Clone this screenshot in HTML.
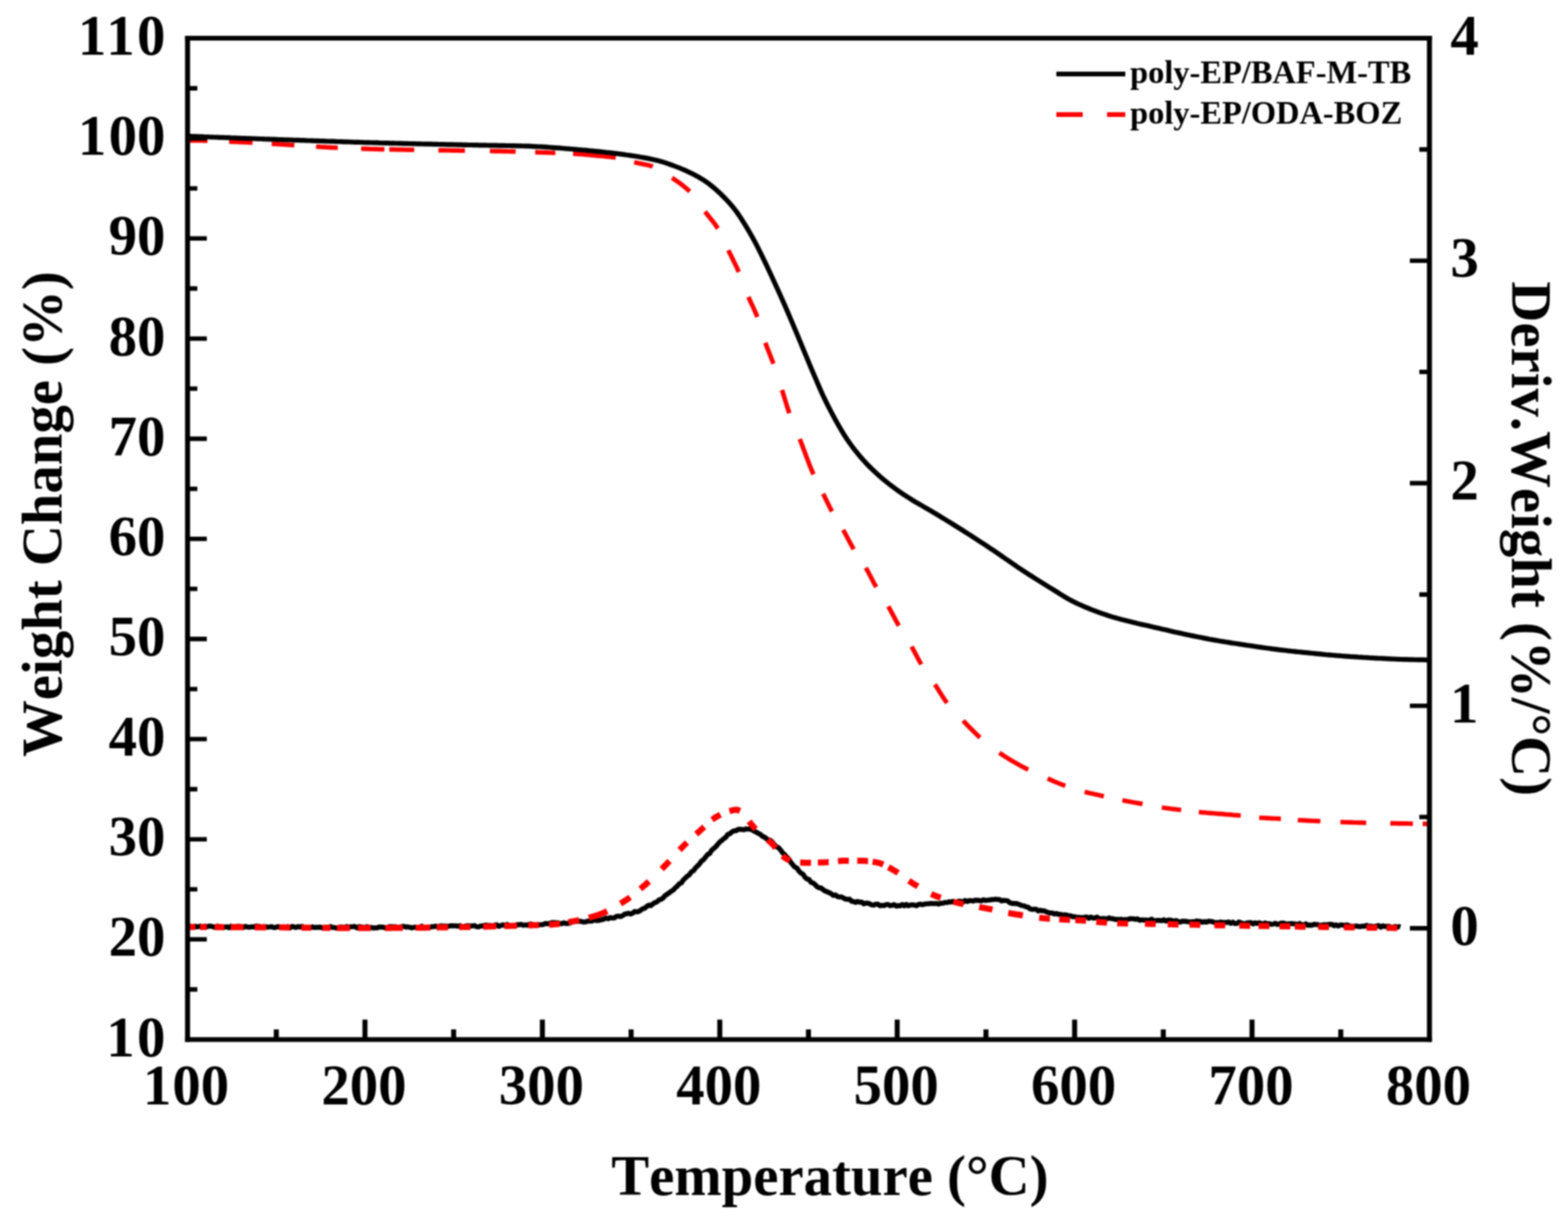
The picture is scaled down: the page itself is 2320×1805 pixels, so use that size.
<!DOCTYPE html>
<html lang="en"><head><meta charset="utf-8"><title>TGA / DTG curves</title>
<style>
html,body{margin:0;padding:0;background:#fff;}
body{width:2320px;height:1805px;overflow:hidden;}
svg{display:block;filter:blur(1.3px);}
</style></head><body>
<svg width="2320" height="1805" viewBox="0 0 2320 1805">
<rect width="2320" height="1805" fill="#fff"/>
<g id="curves" fill="none" stroke-linejoin="round">
<path d="M279.5 207.7 L282.5 207.8 L286.5 207.8 L290.5 207.9 L294.5 207.9 L298.5 208.0 L302.5 208.1 L306.5 208.2 L307.0 208.2 M339.0 209.4 L342.5 209.6 L346.5 209.8 L350.5 210.0 L354.5 210.1 L358.5 210.3 L362.5 210.5 L366.5 210.7 L370.5 210.9 L373.6 211.1 L373.6 211.1 M402.0 212.8 L405.5 213.0 L409.5 213.2 L413.5 213.5 L417.5 213.7 L421.5 214.0 L425.5 214.2 L429.5 214.5 L433.5 214.7 L435.5 214.9 M467.6 217.0 L471.5 217.2 L475.5 217.5 L479.5 217.7 L483.5 217.9 L487.5 218.1 L491.5 218.3 L495.5 218.4 L499.5 218.6 L499.8 218.6 M534.3 220.0 L537.5 220.1 L541.5 220.2 L545.5 220.3 L549.5 220.5 L553.5 220.6 L557.5 220.7 L561.5 220.8 L565.5 220.8 L568.8 220.9 L568.8 220.9 M576.0 221.1 L579.5 221.1 L583.5 221.2 L587.5 221.3 L591.5 221.4 L595.5 221.4 L599.5 221.5 L603.5 221.6 L607.5 221.6 L611.5 221.7 L612.9 221.7 M648.6 222.3 L652.5 222.4 L656.5 222.4 L660.5 222.5 L664.5 222.5 L668.5 222.6 L672.5 222.7 L676.5 222.7 L680.5 222.8 L684.5 222.8 L687.9 222.9 L687.9 222.9 M724.8 223.4 L728.5 223.5 L732.5 223.6 L736.5 223.6 L740.5 223.7 L744.5 223.8 L748.5 223.9 L752.5 224.0 L756.5 224.1 L760.5 224.2 L762.9 224.3 M791.9 225.2 L795.5 225.3 L799.5 225.5 L803.5 225.6 L807.5 225.7 L811.5 225.9 L815.5 226.0 L819.5 226.2 L821.7 226.2 M847.9 227.4 L851.5 227.6 L855.5 227.9 L859.5 228.2 L863.5 228.5 L867.5 228.9 L871.5 229.2 L875.5 229.6 L879.5 230.0 L883.5 230.3 L887.5 230.7 L891.5 231.0 L895.5 231.4 L899.5 231.8 L903.5 232.3 L907.5 232.8 L911.0 233.3 L911.0 233.3 M938.3 240.0 L941.5 240.7 L945.5 241.6 L949.5 242.4 L953.5 243.2 L957.5 244.1 L961.5 245.1 L965.5 246.3 L965.7 246.4 M994.3 263.1 L997.5 265.2 L1001.5 268.0 L1005.5 270.8 L1009.5 273.8 L1013.5 277.0 L1017.5 280.5 L1020.5 283.3 L1020.5 283.3 M1043.1 313.1 L1046.5 317.4 L1050.5 322.3 L1054.5 327.3 L1058.5 332.6 L1062.1 338.1 L1062.1 338.1 M1077.6 370.2 L1081.5 378.1 L1085.5 386.2 L1089.5 394.4 L1093.1 402.4 L1093.1 402.4 M1107.4 439.3 L1110.5 446.4 L1114.5 454.9 L1118.5 463.9 L1120.5 469.0 M1132.4 507.1 L1135.5 515.5 L1139.5 525.6 L1143.5 535.9 L1144.3 538.1 M1157.1 576.9 L1160.5 587.9 L1164.5 601.1 L1167.9 611.4 L1167.9 611.4 M1183.3 649.5 L1186.5 657.8 L1190.5 668.5 L1194.5 679.2 L1198.5 689.7 L1202.5 699.4 L1203.6 701.9 M1217.9 730.5 L1221.5 737.8 L1225.5 746.0 L1229.5 753.9 L1231.0 756.7 M1247.6 784.0 L1251.5 791.1 L1255.5 798.7 L1259.5 806.2 L1263.1 812.6 L1263.1 812.6 M1281.0 840.0 L1284.5 846.2 L1288.5 853.8 L1292.5 861.5 L1296.4 868.6 L1296.4 868.6 M1314.3 897.1 L1317.5 902.8 L1321.5 910.3 L1325.5 917.9 L1329.5 925.2 L1329.8 925.7 M1348.8 956.7 L1352.5 963.4 L1356.5 971.0 L1360.5 978.4 L1363.1 982.9 M1383.3 1012.6 L1386.5 1017.5 L1390.5 1024.0 L1394.5 1030.3 L1398.5 1036.3 L1401.2 1040.0 M1425.0 1066.2 L1428.5 1069.9 L1432.5 1074.1 L1436.5 1078.2 L1440.5 1082.2 L1444.5 1086.1 L1448.5 1089.9 L1450.0 1091.2 M1478.6 1113.8 L1482.5 1116.4 L1486.5 1119.0 L1490.5 1121.5 L1494.5 1124.0 L1498.5 1126.3 L1502.5 1128.6 L1506.5 1130.9 L1510.5 1133.1 L1514.5 1135.2 L1518.5 1137.3 L1521.4 1138.8 M1550.0 1151.9 L1553.5 1153.4 L1557.5 1155.1 L1561.5 1156.8 L1565.5 1158.5 L1569.5 1160.1 L1573.5 1161.6 L1576.2 1162.6 M1604.8 1171.4 L1608.5 1172.4 L1612.5 1173.4 L1616.5 1174.3 L1620.5 1175.2 L1624.5 1176.1 L1628.5 1177.0 L1632.5 1177.9 L1633.3 1178.1 M1660.7 1184.0 L1664.5 1184.7 L1668.5 1185.5 L1672.5 1186.2 L1676.5 1187.0 L1680.5 1187.7 L1684.5 1188.4 L1688.5 1189.1 L1690.5 1189.5 M1719.0 1194.8 L1722.5 1195.3 L1726.5 1195.8 L1730.5 1196.3 L1734.5 1196.8 L1738.5 1197.2 L1742.5 1197.7 L1746.5 1198.2 L1747.6 1198.3 M1773.8 1201.4 L1777.5 1201.8 L1781.5 1202.1 L1785.5 1202.5 L1789.5 1202.8 L1793.5 1203.2 L1797.5 1203.5 L1801.5 1203.8 L1805.5 1204.1 L1809.5 1204.4 L1813.5 1204.8 L1817.5 1205.1 L1821.5 1205.4 L1825.5 1205.8 L1829.5 1206.1 L1833.5 1206.5 L1835.7 1206.7 M1863.1 1209.8 L1866.5 1210.0 L1870.5 1210.2 L1874.5 1210.4 L1878.5 1210.6 L1882.5 1210.8 L1886.5 1211.0 L1890.5 1211.1 L1894.5 1211.4 L1895.2 1211.4 M1920.2 1213.3 L1923.5 1213.5 L1927.5 1213.7 L1931.5 1213.9 L1935.5 1214.1 L1939.5 1214.3 L1943.5 1214.5 L1947.5 1214.7 L1951.5 1214.9 L1953.6 1215.0 M1983.3 1216.2 L1986.5 1216.3 L1990.5 1216.5 L1994.5 1216.6 L1998.5 1216.7 L2002.5 1216.9 L2006.5 1217.0 L2010.5 1217.1 L2014.5 1217.2 L2018.5 1217.3 L2021.4 1217.4 M2057.1 1218.1 L2060.5 1218.2 L2064.5 1218.2 L2068.5 1218.3 L2072.5 1218.3 L2076.5 1218.4 L2080.5 1218.4 L2084.5 1218.5 L2088.5 1218.6 L2090.5 1218.6 M2105.0 1218.9 L2108.5 1218.9 L2112.5 1219.0 L2113.0 1219.0" stroke="#f00" stroke-width="6.7"/>
<path d="M277.5 201.5 L281.5 201.6 L285.5 201.8 L289.5 201.9 L293.5 202.1 L297.5 202.2 L301.5 202.4 L305.5 202.5 L309.5 202.7 L313.5 202.8 L317.5 203.0 L321.5 203.1 L325.5 203.3 L329.5 203.4 L333.5 203.6 L337.5 203.7 L341.5 203.9 L345.5 204.0 L349.5 204.2 L353.5 204.3 L357.5 204.5 L361.5 204.6 L365.5 204.8 L369.5 204.9 L373.5 205.0 L377.5 205.2 L381.5 205.3 L385.5 205.5 L389.5 205.6 L393.5 205.8 L397.5 205.9 L401.5 206.1 L405.5 206.2 L409.5 206.3 L413.5 206.5 L417.5 206.6 L421.5 206.8 L425.5 206.9 L429.5 207.0 L433.5 207.2 L437.5 207.3 L441.5 207.4 L445.5 207.6 L449.5 207.7 L453.5 207.9 L457.5 208.0 L461.5 208.1 L465.5 208.3 L469.5 208.4 L473.5 208.6 L477.5 208.7 L481.5 208.8 L485.5 209.0 L489.5 209.1 L493.5 209.2 L497.5 209.4 L501.5 209.5 L505.5 209.6 L509.5 209.8 L513.5 209.9 L517.5 210.0 L521.5 210.2 L525.5 210.3 L529.5 210.4 L533.5 210.5 L537.5 210.7 L541.5 210.8 L545.5 210.9 L549.5 211.0 L553.5 211.1 L557.5 211.2 L561.5 211.4 L565.5 211.5 L569.5 211.6 L573.5 211.7 L577.5 211.8 L581.5 211.9 L585.5 212.0 L589.5 212.1 L593.5 212.2 L597.5 212.3 L601.5 212.4 L605.5 212.5 L609.5 212.6 L613.5 212.7 L617.5 212.8 L621.5 212.9 L625.5 213.0 L629.5 213.1 L633.5 213.1 L637.5 213.2 L641.5 213.3 L645.5 213.4 L649.5 213.5 L653.5 213.6 L657.5 213.7 L661.5 213.8 L665.5 213.9 L669.5 213.9 L673.5 214.0 L677.5 214.1 L681.5 214.2 L685.5 214.3 L689.5 214.4 L693.5 214.5 L697.5 214.5 L701.5 214.6 L705.5 214.7 L709.5 214.8 L713.5 214.9 L717.5 214.9 L721.5 215.0 L725.5 215.1 L729.5 215.1 L733.5 215.2 L737.5 215.3 L741.5 215.3 L745.5 215.4 L749.5 215.5 L753.5 215.5 L757.5 215.6 L761.5 215.7 L765.5 215.8 L769.5 215.9 L773.5 216.0 L777.5 216.1 L781.5 216.2 L785.5 216.4 L789.5 216.6 L793.5 216.8 L797.5 217.0 L801.5 217.2 L805.5 217.4 L809.5 217.7 L813.5 218.0 L817.5 218.3 L821.5 218.6 L825.5 218.9 L829.5 219.2 L833.5 219.5 L837.5 219.9 L841.5 220.2 L845.5 220.5 L849.5 220.8 L853.5 221.2 L857.5 221.5 L861.5 221.9 L865.5 222.2 L869.5 222.6 L873.5 223.0 L877.5 223.4 L881.5 223.8 L885.5 224.2 L889.5 224.6 L893.5 225.0 L897.5 225.5 L901.5 225.9 L905.5 226.4 L909.5 226.9 L913.5 227.4 L917.5 227.9 L921.5 228.4 L925.5 229.0 L929.5 229.5 L933.5 230.1 L937.5 230.7 L941.5 231.3 L945.5 232.0 L949.5 232.7 L953.5 233.4 L957.5 234.1 L961.5 234.9 L965.5 235.8 L969.5 236.7 L973.5 237.6 L977.5 238.7 L981.5 239.9 L985.5 241.2 L989.5 242.6 L993.5 244.0 L997.5 245.5 L1001.5 247.0 L1005.5 248.5 L1009.5 250.2 L1013.5 251.9 L1017.5 253.7 L1021.5 255.7 L1025.5 257.6 L1029.5 259.7 L1033.5 261.9 L1037.5 264.3 L1041.5 266.7 L1045.5 269.4 L1049.5 272.4 L1053.5 275.6 L1057.5 278.9 L1061.5 282.5 L1065.5 286.2 L1069.5 290.1 L1073.5 294.1 L1077.5 298.4 L1081.5 302.9 L1085.5 307.7 L1089.5 312.9 L1093.5 318.6 L1097.5 324.7 L1101.5 331.1 L1105.5 337.7 L1109.5 344.5 L1113.5 351.5 L1117.5 358.9 L1121.5 366.6 L1125.5 374.6 L1129.5 382.8 L1133.5 391.1 L1137.5 399.7 L1141.5 408.3 L1145.5 417.1 L1149.5 425.8 L1153.5 434.6 L1157.5 443.4 L1161.5 452.5 L1165.5 461.7 L1169.5 471.1 L1173.5 480.6 L1177.5 490.1 L1181.5 499.7 L1185.5 509.4 L1189.5 519.1 L1193.5 528.7 L1197.5 538.3 L1201.5 547.9 L1205.5 557.2 L1209.5 566.5 L1213.5 575.7 L1217.5 584.7 L1221.5 593.1 L1225.5 601.2 L1229.5 608.9 L1233.5 616.4 L1237.5 623.7 L1241.5 630.8 L1245.5 637.6 L1249.5 644.1 L1253.5 650.3 L1257.5 656.0 L1261.5 661.5 L1265.5 666.6 L1269.5 671.6 L1273.5 676.3 L1277.5 680.9 L1281.5 685.2 L1285.5 689.4 L1289.5 693.4 L1293.5 697.2 L1297.5 700.9 L1301.5 704.5 L1305.5 707.9 L1309.5 711.3 L1313.5 714.5 L1317.5 717.7 L1321.5 720.7 L1325.5 723.6 L1329.5 726.5 L1333.5 729.2 L1337.5 731.9 L1341.5 734.5 L1345.5 737.1 L1349.5 739.6 L1353.5 742.1 L1357.5 744.4 L1361.5 746.7 L1365.5 749.0 L1369.5 751.3 L1373.5 753.6 L1377.5 755.9 L1381.5 758.3 L1385.5 760.7 L1389.5 763.1 L1393.5 765.6 L1397.5 768.0 L1401.5 770.5 L1405.5 772.9 L1409.5 775.4 L1413.5 777.9 L1417.5 780.4 L1421.5 782.9 L1425.5 785.4 L1429.5 788.0 L1433.5 790.5 L1437.5 793.1 L1441.5 795.7 L1445.5 798.3 L1449.5 800.9 L1453.5 803.5 L1457.5 806.1 L1461.5 808.8 L1465.5 811.4 L1469.5 814.1 L1473.5 816.8 L1477.5 819.5 L1481.5 822.3 L1485.5 825.1 L1489.5 827.9 L1493.5 830.6 L1497.5 833.4 L1501.5 836.1 L1505.5 838.9 L1509.5 841.5 L1513.5 844.2 L1517.5 846.8 L1521.5 849.4 L1525.5 851.9 L1529.5 854.5 L1533.5 857.0 L1537.5 859.5 L1541.5 862.0 L1545.5 864.5 L1549.5 867.0 L1553.5 869.5 L1557.5 871.9 L1561.5 874.4 L1565.5 876.9 L1569.5 879.5 L1573.5 881.9 L1577.5 884.3 L1581.5 886.6 L1585.5 888.7 L1589.5 890.7 L1593.5 892.7 L1597.5 894.5 L1601.5 896.3 L1605.5 898.1 L1609.5 899.7 L1613.5 901.4 L1617.5 902.9 L1621.5 904.4 L1625.5 905.9 L1629.5 907.3 L1633.5 908.7 L1637.5 910.0 L1641.5 911.3 L1645.5 912.6 L1649.5 913.7 L1653.5 914.9 L1657.5 916.0 L1661.5 917.1 L1665.5 918.1 L1669.5 919.1 L1673.5 920.1 L1677.5 921.1 L1681.5 922.1 L1685.5 923.0 L1689.5 923.9 L1693.5 924.7 L1697.5 925.6 L1701.5 926.5 L1705.5 927.5 L1709.5 928.4 L1713.5 929.3 L1717.5 930.3 L1721.5 931.2 L1725.5 932.1 L1729.5 933.1 L1733.5 934.0 L1737.5 934.9 L1741.5 935.8 L1745.5 936.6 L1749.5 937.5 L1753.5 938.4 L1757.5 939.2 L1761.5 940.1 L1765.5 940.9 L1769.5 941.7 L1773.5 942.5 L1777.5 943.3 L1781.5 944.1 L1785.5 944.9 L1789.5 945.7 L1793.5 946.4 L1797.5 947.1 L1801.5 947.8 L1805.5 948.5 L1809.5 949.1 L1813.5 949.8 L1817.5 950.4 L1821.5 951.1 L1825.5 951.7 L1829.5 952.3 L1833.5 952.9 L1837.5 953.5 L1841.5 954.1 L1845.5 954.7 L1849.5 955.3 L1853.5 955.9 L1857.5 956.5 L1861.5 957.1 L1865.5 957.6 L1869.5 958.2 L1873.5 958.8 L1877.5 959.3 L1881.5 959.9 L1885.5 960.4 L1889.5 960.9 L1893.5 961.4 L1897.5 961.8 L1901.5 962.3 L1905.5 962.8 L1909.5 963.2 L1913.5 963.7 L1917.5 964.1 L1921.5 964.5 L1925.5 964.9 L1929.5 965.3 L1933.5 965.7 L1937.5 966.1 L1941.5 966.5 L1945.5 966.9 L1949.5 967.3 L1953.5 967.7 L1957.5 968.1 L1961.5 968.5 L1965.5 968.8 L1969.5 969.2 L1973.5 969.5 L1977.5 969.9 L1981.5 970.2 L1985.5 970.5 L1989.5 970.8 L1993.5 971.1 L1997.5 971.4 L2001.5 971.6 L2005.5 971.9 L2009.5 972.2 L2013.5 972.4 L2017.5 972.7 L2021.5 972.9 L2025.5 973.2 L2029.5 973.4 L2033.5 973.6 L2037.5 973.8 L2041.5 974.0 L2045.5 974.2 L2049.5 974.4 L2053.5 974.6 L2057.5 974.8 L2061.5 975.0 L2065.5 975.2 L2069.5 975.3 L2073.5 975.5 L2077.5 975.6 L2081.5 975.7 L2085.5 975.8 L2089.5 975.9 L2093.5 976.0 L2097.5 976.1 L2101.5 976.2 L2105.5 976.2 L2109.5 976.3 L2113.0 976.4" stroke="#000" stroke-width="7.2"/>
<path d="M279.0 1370.7 L282.0 1370.3 L285.0 1371.6 L288.0 1370.1 L291.0 1371.3 L294.0 1370.9 L297.0 1370.1 L300.0 1371.3 L303.0 1370.1 L306.0 1371.1 L309.0 1370.2 L312.0 1370.2 L315.0 1371.1 L318.0 1372.1 L321.0 1370.3 L324.0 1370.6 L327.0 1371.6 L330.0 1372.5 L333.0 1371.5 L336.0 1371.1 L339.0 1372.6 L342.0 1370.2 L345.0 1372.3 L348.0 1370.8 L351.0 1370.4 L354.0 1370.4 L357.0 1370.9 L360.0 1372.2 L363.0 1370.6 L366.0 1371.6 L369.0 1371.8 L372.0 1371.1 L375.0 1371.6 L378.0 1370.3 L381.0 1370.3 L384.0 1370.7 L387.0 1371.9 L390.0 1371.3 L393.0 1371.0 L396.0 1371.7 L399.0 1371.4 L402.0 1371.0 L405.0 1372.3 L408.0 1372.0 L411.0 1370.9 L414.0 1371.7 L417.0 1371.6 L420.0 1372.5 L423.0 1372.2 L426.0 1371.0 L429.0 1372.9 L432.0 1370.6 L435.0 1371.4 L438.0 1372.3 L441.0 1370.8 L444.0 1371.6 L447.0 1370.5 L450.0 1372.1 L453.0 1372.4 L456.0 1371.9 L459.0 1372.7 L462.0 1371.3 L465.0 1372.3 L468.0 1372.0 L471.0 1372.0 L474.0 1371.7 L477.0 1372.7 L480.0 1373.0 L483.0 1371.8 L486.0 1372.3 L489.0 1370.7 L492.0 1372.4 L495.0 1372.3 L498.0 1373.2 L501.0 1372.8 L504.0 1371.4 L507.0 1371.7 L510.0 1372.4 L513.0 1370.7 L516.0 1371.9 L519.0 1371.1 L522.0 1371.0 L525.0 1370.8 L528.0 1372.7 L531.0 1371.0 L534.0 1371.3 L537.0 1371.7 L540.0 1373.0 L543.0 1370.9 L546.0 1371.9 L549.0 1372.1 L552.0 1373.0 L555.0 1372.8 L558.0 1372.9 L561.0 1371.4 L564.0 1371.7 L567.0 1371.6 L570.0 1372.9 L573.0 1373.1 L576.0 1371.0 L579.0 1371.0 L582.0 1371.1 L585.0 1371.1 L588.0 1371.8 L591.0 1372.0 L594.0 1371.1 L597.0 1370.4 L600.0 1371.5 L603.0 1371.3 L606.0 1371.8 L609.0 1372.8 L612.0 1372.1 L615.0 1371.6 L618.0 1371.8 L621.0 1371.9 L624.0 1370.3 L627.0 1372.4 L630.0 1372.1 L633.0 1372.3 L636.0 1372.1 L639.0 1371.0 L642.0 1371.0 L645.0 1370.2 L648.0 1371.5 L651.0 1370.0 L654.0 1369.9 L657.0 1370.3 L660.0 1370.1 L663.0 1370.5 L666.0 1369.8 L669.0 1369.6 L672.0 1369.9 L675.0 1369.8 L678.0 1370.4 L681.0 1369.5 L684.0 1371.6 L687.0 1370.9 L690.0 1369.6 L693.0 1369.8 L696.0 1370.0 L699.0 1370.0 L702.0 1369.3 L705.0 1371.1 L708.0 1371.4 L711.0 1370.0 L714.0 1370.0 L717.0 1368.9 L720.0 1368.8 L723.0 1369.4 L726.0 1369.1 L729.0 1370.5 L732.0 1368.7 L735.0 1368.3 L738.0 1370.6 L741.0 1369.4 L744.0 1368.3 L747.0 1369.3 L750.0 1367.8 L753.0 1369.0 L756.0 1370.1 L759.0 1369.7 L762.0 1369.2 L765.0 1368.0 L768.0 1368.2 L771.0 1367.5 L774.0 1369.0 L777.0 1368.3 L780.0 1368.8 L783.0 1367.5 L786.0 1367.2 L789.0 1368.6 L792.0 1368.9 L795.0 1368.4 L798.0 1368.1 L801.0 1368.0 L804.0 1367.7 L807.0 1366.2 L810.0 1366.8 L813.0 1366.2 L816.0 1365.2 L819.0 1365.0 L822.0 1365.5 L825.0 1365.2 L828.0 1366.2 L831.0 1366.7 L834.0 1365.2 L837.0 1366.3 L840.0 1366.2 L843.0 1365.9 L846.0 1364.2 L849.0 1363.6 L852.0 1363.4 L855.0 1363.1 L858.0 1362.9 L861.0 1363.7 L864.0 1364.2 L867.0 1363.8 L870.0 1362.6 L873.0 1362.7 L876.0 1362.8 L879.0 1360.6 L882.0 1361.7 L885.0 1362.0 L888.0 1361.2 L891.0 1360.7 L894.0 1359.5 L897.0 1358.2 L900.0 1359.3 L903.0 1357.5 L906.0 1358.2 L909.0 1358.0 L912.0 1355.9 L915.0 1355.3 L918.0 1356.1 L921.0 1354.8 L924.0 1352.7 L927.0 1351.9 L930.0 1351.1 L933.0 1352.3 L936.0 1351.1 L939.0 1348.5 L942.0 1349.2 L945.0 1348.6 L948.0 1346.6 L951.0 1344.5 L954.0 1343.6 L957.0 1341.0 L960.0 1339.1 L963.0 1339.9 L966.0 1337.3 L969.0 1335.3 L972.0 1334.5 L975.0 1331.4 L978.0 1330.7 L981.0 1328.7 L984.0 1325.1 L987.0 1323.1 L990.0 1321.1 L993.0 1318.7 L996.0 1317.1 L999.0 1313.6 L1002.0 1311.2 L1005.0 1307.5 L1008.0 1306.5 L1011.0 1301.9 L1014.0 1299.1 L1017.0 1296.3 L1020.0 1294.2 L1023.0 1289.9 L1026.0 1288.2 L1029.0 1284.1 L1032.0 1281.2 L1035.0 1278.1 L1038.0 1273.8 L1041.0 1271.8 L1044.0 1268.0 L1047.0 1264.2 L1050.0 1262.9 L1053.0 1257.9 L1056.0 1255.4 L1059.0 1252.8 L1062.0 1249.2 L1065.0 1245.7 L1068.0 1243.4 L1071.0 1240.7 L1074.0 1238.6 L1077.0 1234.4 L1080.0 1233.4 L1083.0 1230.8 L1086.0 1229.2 L1089.0 1229.0 L1092.0 1227.1 L1095.0 1226.8 L1098.0 1227.2 L1101.0 1227.5 L1104.0 1226.3 L1107.0 1226.7 L1110.0 1226.7 L1113.0 1227.8 L1116.0 1229.9 L1119.0 1231.1 L1122.0 1233.0 L1125.0 1234.4 L1128.0 1237.3 L1131.0 1238.5 L1134.0 1240.8 L1137.0 1243.0 L1140.0 1243.3 L1143.0 1246.4 L1146.0 1250.0 L1149.0 1252.8 L1152.0 1254.2 L1155.0 1257.6 L1158.0 1261.9 L1161.0 1264.3 L1164.0 1268.0 L1167.0 1270.9 L1170.0 1275.8 L1173.0 1279.4 L1176.0 1282.9 L1179.0 1284.1 L1182.0 1288.7 L1185.0 1291.7 L1188.0 1293.2 L1191.0 1297.8 L1194.0 1300.6 L1197.0 1301.2 L1200.0 1305.5 L1203.0 1306.3 L1206.0 1308.7 L1209.0 1312.0 L1212.0 1313.6 L1215.0 1313.8 L1218.0 1316.3 L1221.0 1318.3 L1224.0 1319.5 L1227.0 1320.7 L1230.0 1322.4 L1233.0 1324.7 L1236.0 1324.0 L1239.0 1326.4 L1242.0 1327.1 L1245.0 1326.9 L1248.0 1328.6 L1251.0 1330.1 L1254.0 1330.7 L1257.0 1330.3 L1260.0 1333.5 L1263.0 1333.8 L1266.0 1335.1 L1269.0 1333.6 L1272.0 1334.7 L1275.0 1334.7 L1278.0 1337.2 L1281.0 1336.2 L1284.0 1336.2 L1287.0 1337.3 L1290.0 1338.9 L1293.0 1339.0 L1296.0 1337.8 L1299.0 1337.8 L1302.0 1340.1 L1305.0 1339.4 L1308.0 1339.8 L1311.0 1338.4 L1314.0 1338.3 L1317.0 1340.0 L1320.0 1339.3 L1323.0 1338.4 L1326.0 1340.6 L1329.0 1339.8 L1332.0 1340.2 L1335.0 1338.2 L1338.0 1340.2 L1341.0 1338.1 L1344.0 1340.1 L1347.0 1339.0 L1350.0 1338.6 L1353.0 1339.1 L1356.0 1340.0 L1359.0 1338.2 L1362.0 1337.7 L1365.0 1338.6 L1368.0 1337.6 L1371.0 1337.1 L1374.0 1337.1 L1377.0 1336.6 L1380.0 1336.8 L1383.0 1336.9 L1386.0 1336.7 L1389.0 1337.6 L1392.0 1336.2 L1395.0 1336.4 L1398.0 1335.3 L1401.0 1335.4 L1404.0 1334.3 L1407.0 1334.5 L1410.0 1333.6 L1413.0 1335.1 L1416.0 1334.4 L1419.0 1333.1 L1422.0 1333.6 L1425.0 1334.6 L1428.0 1332.2 L1431.0 1333.8 L1434.0 1332.5 L1437.0 1332.5 L1440.0 1333.2 L1443.0 1331.8 L1446.0 1332.0 L1449.0 1332.3 L1452.0 1332.9 L1455.0 1331.1 L1458.0 1332.2 L1461.0 1331.8 L1464.0 1331.6 L1467.0 1331.0 L1470.0 1330.9 L1473.0 1330.3 L1476.0 1330.8 L1479.0 1330.9 L1482.0 1333.0 L1485.0 1332.1 L1488.0 1332.4 L1491.0 1332.9 L1494.0 1335.6 L1497.0 1336.5 L1500.0 1336.8 L1503.0 1336.6 L1506.0 1337.4 L1509.0 1338.5 L1512.0 1339.9 L1515.0 1340.1 L1518.0 1341.7 L1521.0 1342.1 L1524.0 1344.7 L1527.0 1345.5 L1530.0 1345.1 L1533.0 1345.1 L1536.0 1347.7 L1539.0 1346.7 L1542.0 1347.6 L1545.0 1347.4 L1548.0 1349.1 L1551.0 1350.1 L1554.0 1350.9 L1557.0 1350.8 L1560.0 1352.3 L1563.0 1351.5 L1566.0 1352.7 L1569.0 1352.7 L1572.0 1354.0 L1575.0 1353.5 L1578.0 1353.8 L1581.0 1354.9 L1584.0 1355.0 L1587.0 1356.2 L1590.0 1356.3 L1593.0 1357.1 L1596.0 1357.1 L1599.0 1357.4 L1602.0 1358.0 L1605.0 1356.9 L1608.0 1356.8 L1611.0 1358.7 L1614.0 1356.7 L1617.0 1358.3 L1620.0 1358.2 L1623.0 1356.8 L1626.0 1359.0 L1629.0 1359.3 L1632.0 1358.8 L1635.0 1359.2 L1638.0 1359.6 L1641.0 1358.0 L1644.0 1359.1 L1647.0 1359.2 L1650.0 1360.2 L1653.0 1360.3 L1656.0 1360.4 L1659.0 1359.9 L1662.0 1360.9 L1665.0 1360.4 L1668.0 1360.6 L1671.0 1359.5 L1674.0 1359.1 L1677.0 1359.4 L1680.0 1360.1 L1683.0 1359.5 L1686.0 1361.5 L1689.0 1360.9 L1692.0 1361.2 L1695.0 1361.3 L1698.0 1361.5 L1701.0 1361.1 L1704.0 1359.9 L1707.0 1362.1 L1710.0 1362.1 L1713.0 1361.6 L1716.0 1361.8 L1719.0 1362.2 L1722.0 1360.8 L1725.0 1362.7 L1728.0 1361.5 L1731.0 1361.2 L1734.0 1361.8 L1737.0 1363.2 L1740.0 1361.9 L1743.0 1363.4 L1746.0 1364.2 L1749.0 1363.0 L1752.0 1362.9 L1755.0 1363.2 L1758.0 1363.8 L1761.0 1364.1 L1764.0 1363.8 L1767.0 1364.0 L1770.0 1362.6 L1773.0 1362.9 L1776.0 1363.2 L1779.0 1364.6 L1782.0 1363.5 L1785.0 1364.3 L1788.0 1362.9 L1791.0 1363.1 L1794.0 1363.7 L1797.0 1364.9 L1800.0 1365.0 L1803.0 1365.0 L1806.0 1364.1 L1809.0 1364.8 L1812.0 1364.7 L1815.0 1364.8 L1818.0 1364.0 L1821.0 1366.1 L1824.0 1364.3 L1827.0 1366.4 L1830.0 1366.4 L1833.0 1364.1 L1836.0 1365.3 L1839.0 1366.3 L1842.0 1366.8 L1845.0 1365.5 L1848.0 1365.1 L1851.0 1365.0 L1854.0 1367.0 L1857.0 1365.2 L1860.0 1366.2 L1863.0 1365.2 L1866.0 1366.2 L1869.0 1367.4 L1872.0 1365.4 L1875.0 1367.2 L1878.0 1366.5 L1881.0 1367.5 L1884.0 1367.1 L1887.0 1366.0 L1890.0 1367.8 L1893.0 1366.8 L1896.0 1365.7 L1899.0 1365.7 L1902.0 1367.0 L1905.0 1367.0 L1908.0 1366.7 L1911.0 1366.3 L1914.0 1366.9 L1917.0 1366.9 L1920.0 1368.4 L1923.0 1366.3 L1926.0 1368.3 L1929.0 1368.6 L1932.0 1366.8 L1935.0 1369.0 L1938.0 1368.5 L1941.0 1369.1 L1944.0 1367.5 L1947.0 1367.8 L1950.0 1368.0 L1953.0 1369.6 L1956.0 1368.6 L1959.0 1368.1 L1962.0 1368.3 L1965.0 1368.0 L1968.0 1367.5 L1971.0 1367.7 L1974.0 1369.7 L1977.0 1368.3 L1980.0 1370.1 L1983.0 1368.4 L1986.0 1368.5 L1989.0 1369.2 L1992.0 1368.5 L1995.0 1369.0 L1998.0 1370.6 L2001.0 1370.5 L2004.0 1370.4 L2007.0 1370.0 L2010.0 1370.8 L2013.0 1371.0 L2016.0 1370.1 L2019.0 1370.6 L2022.0 1368.9 L2025.0 1370.8 L2028.0 1370.1 L2031.0 1371.0 L2034.0 1370.8 L2037.0 1370.0 L2040.0 1369.4 L2043.0 1371.8 L2046.0 1369.8 L2049.0 1370.8 L2052.0 1370.5 L2055.0 1370.5 L2058.0 1371.7 L2061.0 1372.4 L2064.0 1370.7 L2067.0 1371.8 L2070.0 1370.9 L2072.0 1371.6" stroke="#000" stroke-width="7.4"/>
<path d="M279.5 1371.5 L283.0 1371.5 L287.0 1371.5 L289.0 1371.5 M296.0 1371.6 L299.0 1371.6 L303.0 1371.6 L306.0 1371.6 L306.0 1371.6 M317.6 1371.7 L321.0 1371.7 L325.0 1371.7 L329.0 1371.7 L332.0 1371.7 L332.0 1371.7 M341.4 1371.7 L345.0 1371.8 L349.0 1371.8 L353.0 1371.8 L357.0 1371.8 L360.5 1371.8 L360.5 1371.8 M377.0 1371.9 L380.0 1371.9 L384.0 1371.9 L388.0 1371.9 L392.0 1372.0 L394.0 1372.0 M413.0 1372.1 L416.0 1372.1 L420.0 1372.1 L424.0 1372.2 L428.0 1372.2 L429.5 1372.2 M446.0 1372.4 L449.0 1372.4 L453.0 1372.4 L457.0 1372.5 L460.5 1372.5 L460.5 1372.5 M477.0 1372.7 L480.0 1372.7 L484.0 1372.7 L488.0 1372.8 L489.0 1372.8 M498.6 1372.8 L502.0 1372.9 L506.0 1372.9 L510.0 1372.9 L514.0 1372.9 L517.6 1372.9 L517.6 1372.9 M529.5 1373.0 L533.0 1373.0 L537.0 1373.0 L541.0 1373.0 L545.0 1373.0 L548.6 1373.0 L548.6 1373.0 M570.0 1372.9 L573.0 1372.9 L577.0 1372.9 L581.0 1372.8 L585.0 1372.8 L589.0 1372.8 L593.0 1372.7 L596.0 1372.7 L596.0 1372.7 M615.0 1372.5 L618.0 1372.5 L622.0 1372.5 L626.0 1372.4 L630.0 1372.4 L634.0 1372.3 L636.7 1372.3 M646.0 1372.2 L649.0 1372.1 L653.0 1372.1 L657.0 1372.0 L661.0 1372.0 L663.0 1372.0 M679.5 1371.7 L683.0 1371.6 L687.0 1371.6 L691.0 1371.5 L695.0 1371.4 L696.0 1371.4 M715.0 1371.0 L718.0 1370.9 L722.0 1370.8 L726.0 1370.7 L730.0 1370.6 L734.0 1370.5 L734.3 1370.5 M746.0 1370.1 L749.0 1370.0 L753.0 1369.9 L757.0 1369.8 L761.0 1369.7 L765.0 1369.6 L765.0 1369.6 M781.5 1369.1 L785.0 1368.9 L789.0 1368.8 L793.0 1368.7 L797.0 1368.6 L797.5 1368.6 M812.5 1368.0 L816.0 1367.9 L820.0 1367.6 L824.0 1367.3 L828.0 1366.8 L828.5 1366.8 M841.1 1364.5 L845.0 1363.7 L849.0 1362.9 L853.0 1362.1 L856.9 1361.3 L856.9 1361.3 M871.2 1357.9 L875.0 1356.8 L879.0 1355.7 L883.0 1354.4 L887.0 1353.0 L891.0 1351.4 L895.0 1349.7 L898.4 1348.1 L898.4 1348.1 M918.1 1336.9 L922.0 1334.4 L926.0 1331.9 L930.0 1329.2 L932.3 1327.5 M947.5 1315.2 L951.0 1312.2 L955.0 1308.8 L959.0 1305.2 L960.1 1304.2 M979.0 1285.8 L983.0 1281.8 L987.0 1277.7 L990.6 1273.9 L990.6 1273.9 M1005.5 1257.5 L1009.0 1253.9 L1013.0 1249.9 L1016.5 1246.6 L1016.5 1246.6 M1030.1 1234.0 L1034.0 1230.6 L1038.0 1227.0 L1041.9 1223.4 L1041.9 1223.4 M1053.7 1212.8 L1057.0 1210.4 L1061.0 1207.9 L1065.0 1205.8 L1065.9 1205.3 M1079.3 1200.1 L1083.0 1199.1 L1087.0 1198.2 L1091.0 1198.1 L1094.9 1199.9 L1094.9 1199.9 M1108.5 1215.2 L1112.0 1220.1 L1116.0 1224.6 L1118.1 1226.7 M1136.0 1242.4 L1140.0 1246.1 L1144.0 1250.1 L1147.8 1254.5 L1147.8 1254.5 M1157.8 1266.2 L1161.0 1269.0 L1165.0 1271.4 L1168.8 1273.3 L1168.8 1273.3 M1183.9 1276.3 L1187.0 1276.3 L1191.0 1276.4 L1195.0 1276.4 L1199.0 1276.4 L1199.9 1276.4 M1210.1 1276.2 L1214.0 1276.1 L1218.0 1276.0 L1222.0 1275.8 L1226.0 1275.5 L1226.1 1275.5 M1239.9 1274.0 L1243.0 1273.8 L1247.0 1273.6 L1251.0 1273.6 L1255.0 1273.6 L1255.9 1273.6 M1268.4 1273.6 L1272.0 1273.6 L1276.0 1273.6 L1280.0 1273.7 L1284.0 1274.0 L1284.4 1274.0 M1291.1 1275.0 L1295.0 1275.6 L1299.0 1276.4 L1303.0 1277.5 L1306.9 1279.1 L1306.9 1279.1 M1314.5 1283.0 L1318.0 1285.0 L1322.0 1287.3 L1326.0 1289.7 L1328.9 1291.6 M1344.8 1303.0 L1348.0 1305.2 L1352.0 1307.8 L1356.0 1310.2 L1358.0 1311.4 M1377.8 1322.6 L1381.0 1324.1 L1385.0 1325.8 L1389.0 1327.3 L1391.8 1328.3 M1410.5 1334.1 L1414.0 1335.0 L1418.0 1336.0 L1422.0 1336.9 L1425.7 1337.7 L1425.7 1337.7 M1448.8 1342.0 L1452.0 1342.6 L1456.0 1343.3 L1460.0 1344.1 L1464.0 1344.9 L1468.0 1345.7 L1468.4 1345.8 M1491.8 1350.7 L1495.0 1351.3 L1499.0 1352.0 L1503.0 1352.7 L1507.0 1353.3 L1511.0 1354.0 L1513.4 1354.4 M1537.6 1357.8 L1541.0 1358.2 L1545.0 1358.6 L1549.0 1358.9 L1553.0 1359.2 L1553.4 1359.2 M1567.2 1360.1 L1571.0 1360.3 L1575.0 1360.5 L1579.0 1360.7 L1583.0 1360.9 L1583.2 1360.9 M1591.0 1361.3 L1595.0 1361.5 L1599.0 1361.7 L1603.0 1362.0 L1607.0 1362.3 L1607.0 1362.3 M1622.0 1363.8 L1626.0 1364.2 L1630.0 1364.5 L1634.0 1364.8 L1638.0 1365.0 L1638.0 1365.0 M1653.0 1365.9 L1657.0 1366.1 L1661.0 1366.2 L1665.0 1366.3 L1669.0 1366.4 L1669.0 1366.4 M1694.0 1366.8 L1698.0 1366.8 L1702.0 1366.9 L1706.0 1367.0 L1710.0 1367.1 L1710.0 1367.1 M1727.7 1367.5 L1731.0 1367.5 L1735.0 1367.6 L1739.0 1367.7 L1743.0 1367.7 L1743.7 1367.7 M1759.9 1368.0 L1763.0 1368.0 L1767.0 1368.1 L1771.0 1368.2 L1775.0 1368.3 L1775.9 1368.3 M1796.8 1368.8 L1800.0 1368.9 L1804.0 1368.9 L1808.0 1369.0 L1812.0 1369.1 L1812.8 1369.1 M1833.7 1369.5 L1837.0 1369.5 L1841.0 1369.6 L1845.0 1369.7 L1849.0 1369.7 L1849.7 1369.7 M1862.2 1369.9 L1866.0 1370.0 L1870.0 1370.0 L1874.0 1370.1 L1878.0 1370.2 L1878.2 1370.2 M1893.2 1370.4 L1897.0 1370.5 L1901.0 1370.5 L1905.0 1370.6 L1909.0 1370.6 L1909.2 1370.6 M1915.8 1370.7 L1919.0 1370.8 L1923.0 1370.9 L1927.0 1370.9 L1931.0 1371.0 L1931.8 1371.0 M1950.3 1371.3 L1954.0 1371.3 L1958.0 1371.4 L1962.0 1371.4 L1966.0 1371.5 L1966.3 1371.5 M1988.4 1371.8 L1992.0 1371.9 L1996.0 1371.9 L2000.0 1372.0 L2004.0 1372.1 L2004.4 1372.1 M2021.8 1372.3 L2025.0 1372.4 L2029.0 1372.4 L2033.0 1372.5 L2037.0 1372.5 L2037.8 1372.5 M2051.5 1372.7 L2055.0 1372.8 L2059.0 1372.8 L2063.0 1372.9 L2067.0 1372.9 L2067.5 1372.9" stroke="#f00" stroke-width="9.0"/>
</g>
<g stroke="#000" fill="none" stroke-linecap="butt">
<path d="M273.8 56.5H2118.7M273.8 1538.0H2118.7" stroke-width="6.8"/>
<path d="M277.5 53.1V1541.4M2115.0 53.1V1541.4" stroke-width="7.4"/>
<path d="M277.5 1463.9h14.5 M277.5 1389.8h28.5 M277.5 1315.8h14.5 M277.5 1241.7h28.5 M277.5 1167.6h14.5 M277.5 1093.5h28.5 M277.5 1019.5h14.5 M277.5 945.4h28.5 M277.5 871.3h14.5 M277.5 797.2h28.5 M277.5 723.2h14.5 M277.5 649.1h28.5 M277.5 575.0h14.5 M277.5 501.0h28.5 M277.5 426.9h14.5 M277.5 352.8h28.5 M277.5 278.7h14.5 M277.5 204.6h28.5 M277.5 130.6h14.5 M2115.0 1373.4h-29.0 M2115.0 1208.8h-15.0 M2115.0 1044.2h-29.0 M2115.0 879.6h-15.0 M2115.0 714.9h-29.0 M2115.0 550.3h-15.0 M2115.0 385.7h-29.0 M2115.0 221.1h-15.0" stroke-width="6.6"/>
<path d="M408.8 1538.0v-15.0 M540.0 1538.0v-29.5 M671.2 1538.0v-15.0 M802.5 1538.0v-29.5 M933.8 1538.0v-15.0 M1065.0 1538.0v-29.5 M1196.2 1538.0v-15.0 M1327.5 1538.0v-29.5 M1458.8 1538.0v-15.0 M1590.0 1538.0v-29.5 M1721.2 1538.0v-15.0 M1852.5 1538.0v-29.5 M1983.8 1538.0v-15.0" stroke-width="7.4"/>
</g>
<g font-family="'Liberation Serif', 'Times New Roman', serif" font-weight="bold" fill="#000" style="font-kerning:none" font-kerning="none">
<g font-size="84">
<text x="157.3 202.8" y="1562.5">10</text>
<text x="160.8 202.8" y="1414.3">20</text>
<text x="160.8 202.8" y="1266.2">30</text>
<text x="160.8 202.8" y="1118.0">40</text>
<text x="160.8 202.8" y="969.9">50</text>
<text x="160.8 202.8" y="821.8">60</text>
<text x="160.8 202.8" y="673.6">70</text>
<text x="160.8 202.8" y="525.5">80</text>
<text x="160.8 202.8" y="377.3">90</text>
<text x="115.3 160.8 202.8" y="229.1">100</text>
<text x="115.3 157.3 202.8" y="81.0">110</text>
</g>
<g font-size="84">
<text x="211.5 255.0 297.0" y="1634">100</text>
<text x="475.5 517.5 559.5" y="1634">200</text>
<text x="738.0 780.0 822.0" y="1634">300</text>
<text x="1000.5 1042.5 1084.5" y="1634">400</text>
<text x="1263.0 1305.0 1347.0" y="1634">500</text>
<text x="1525.5 1567.5 1609.5" y="1634">600</text>
<text x="1788.0 1830.0 1872.0" y="1634">700</text>
<text x="2050.5 2092.5 2134.5" y="1634">800</text>
</g>
<g font-size="84">
<text x="2146.0" y="1397.9">0</text>
<text x="2145.5" y="1068.7">1</text>
<text x="2146.0" y="739.4">2</text>
<text x="2146.0" y="410.2">3</text>
<text x="2146.0" y="81.0">4</text>
</g>
<text x="1228" y="1768.3" font-size="84" text-anchor="middle">Temperature (°C)</text>
<text transform="translate(90.5,760.6) rotate(-90)" font-size="84" text-anchor="middle">Weight Change (%)</text>
<text transform="translate(2237,797) rotate(90)" font-size="84" text-anchor="middle">Deriv.Weight (%/°C)</text>
<g font-size="48" stroke="none">
<text x="1672" y="123">poly-EP/BAF-M-TB</text>
<text x="1672" y="183">poly-EP/ODA-BOZ</text>
</g>
</g>
<path d="M1563 109.5H1665" stroke="#000" stroke-width="7" fill="none"/>
<path d="M1563 169.6H1602M1638 169.6H1665" stroke="#f00" stroke-width="7" fill="none"/>
</svg>
</body></html>
